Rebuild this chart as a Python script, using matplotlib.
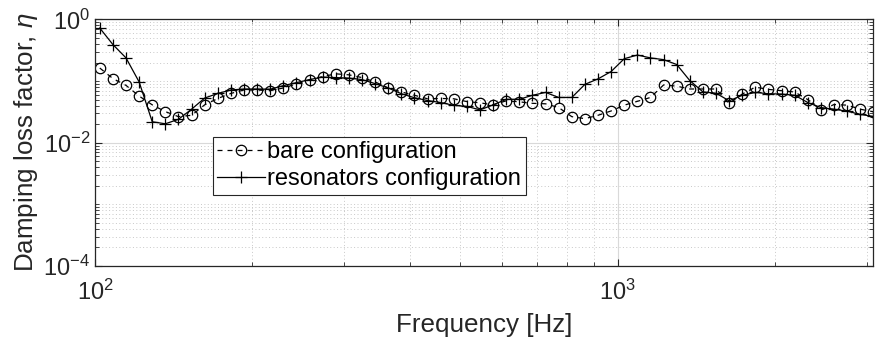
import numpy as np
import matplotlib
matplotlib.use("Agg")
import matplotlib.pyplot as plt
from matplotlib.ticker import FixedLocator, NullFormatter, LogFormatterMathtext

# 1/12-octave band centres, 1000*2^((k+0.5)/12), k = -40 .. 19
band_index = np.arange(-40, 20)
freq = 1000.0 * 2.0 ** ((band_index + 0.5) / 12.0)

eta_bare = [0.163, 0.110, 0.0853, 0.0572, 0.0412, 0.0320, 0.0265, 0.0279, 0.0412, 0.0523,
            0.0631, 0.0718, 0.0718, 0.0699, 0.0774, 0.0900, 0.1047, 0.1186, 0.1312, 0.1264,
            0.1141, 0.0970, 0.0774, 0.0668, 0.0589, 0.0517, 0.0523, 0.0517, 0.0465, 0.0444,
            0.0412, 0.0479, 0.0461, 0.0436, 0.0428, 0.0372, 0.0265, 0.0246, 0.0279, 0.0328,
            0.0407, 0.0470, 0.0543, 0.0867, 0.0828, 0.0745, 0.0745, 0.0745, 0.0436, 0.0617,
            0.0798, 0.0734, 0.0699, 0.0665, 0.0501, 0.0338, 0.0417, 0.0407, 0.0350, 0.0318]

eta_res = [0.726, 0.392, 0.238, 0.0970, 0.0219, 0.0203, 0.0240, 0.0350, 0.0531, 0.0631,
           0.0718, 0.0745, 0.0745, 0.0739, 0.0844, 0.0945, 0.1059, 0.1163, 0.1141, 0.1120,
           0.1059, 0.0910, 0.0774, 0.0624, 0.0537, 0.0484, 0.0449, 0.0404, 0.0389, 0.0341,
           0.0412, 0.0507, 0.0507, 0.0589, 0.0655, 0.0543, 0.0543, 0.0887, 0.1087, 0.1432,
           0.231, 0.265, 0.238, 0.223, 0.186, 0.102, 0.0668, 0.0636, 0.0479, 0.0589,
           0.0655, 0.0624, 0.0617, 0.0589, 0.0449, 0.0372, 0.0350, 0.0325, 0.0288, 0.0267]

plt.rcParams['font.family'] = ['Liberation Sans', 'DejaVu Sans']
plt.rcParams['mathtext.fontset'] = 'custom'
plt.rcParams['mathtext.rm'] = 'Liberation Sans'
plt.rcParams['mathtext.it'] = 'Liberation Sans:italic'
txt = '#262626'
fs = 17        # tick labels and legend
fs_lab = 18.7  # axis labels

fig = plt.figure(figsize=(8.75, 3.53), dpi=100)
ax = fig.add_axes([0.1086, 0.2465, 0.8891, 0.6983])

ax.loglog(freq, eta_bare, linestyle=(0, (4, 4)), color='k', linewidth=0.9, marker='o',
          markersize=7.5, markerfacecolor='none', markeredgewidth=0.9,
          label='bare configuration')
ax.loglog(freq, eta_res, linestyle='-', color='k', linewidth=0.9, marker='+',
          markersize=9, markeredgewidth=0.9, label='resonators configuration')

ax.set_xlim(100, 3079)
ax.set_ylim(1e-4, 1)

ax.xaxis.set_major_locator(FixedLocator([100, 1000]))
ax.xaxis.set_minor_locator(FixedLocator([k * 10.0 ** n for n in (2, 3) for k in range(2, 10)]))
ax.yaxis.set_major_locator(FixedLocator([1e-4, 1e-2, 1]))
ax.yaxis.set_minor_locator(FixedLocator([k * 10.0 ** n for n in (-4, -3, -2, -1)
                                         for k in range(1, 10)
                                         if not (k == 1 and n in (-4, -2))]))
ax.xaxis.set_major_formatter(LogFormatterMathtext())
ax.yaxis.set_major_formatter(LogFormatterMathtext())
ax.xaxis.set_minor_formatter(NullFormatter())
ax.yaxis.set_minor_formatter(NullFormatter())

ax.grid(True, which='major', color='#d9d9d9', linestyle='-', linewidth=0.8)
ax.grid(True, which='minor', color='#c8c8c8', linestyle=(0, (1, 2.5)), linewidth=0.7)
ax.set_axisbelow(True)

ax.tick_params(which='both', direction='in', top=True, right=True, colors=txt,
               labelsize=fs, labelcolor=txt)
ax.tick_params(which='major', length=5, width=0.8)
ax.tick_params(which='minor', length=3, width=0.6)
ax.tick_params(axis='x', pad=10)
for s in ax.spines.values():
    s.set_color(txt)
    s.set_linewidth(0.9)

ax.set_xlabel('Frequency [Hz]', fontsize=fs_lab, color=txt, labelpad=6)
ax.set_ylabel(r'Damping loss factor, $\eta$', fontsize=fs_lab, color=txt, labelpad=2)

leg = ax.legend(loc='upper left', bbox_to_anchor=(0.1513, 0.5245), fontsize=fs,
                frameon=True, fancybox=False, framealpha=1, edgecolor=txt,
                handlelength=2.0, handletextpad=0.1, borderpad=0.2,
                labelspacing=0.2, borderaxespad=0)
leg.get_frame().set_linewidth(0.8)

fig.savefig('out.png', dpi=100)
